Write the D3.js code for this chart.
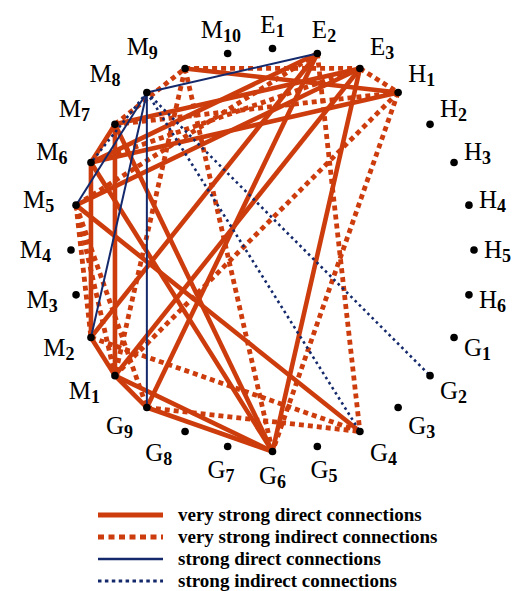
<!DOCTYPE html>
<html>
<head>
<meta charset="utf-8">
<script src="https://cdn.jsdelivr.net/npm/d3@7"></script>
<style>
  body { margin: 0; background: #fff; }
  svg { display: block; }
  .lbl { font-family: "Liberation Serif", "Times New Roman", serif; fill: #000; }
  .leg { font-family: "Liberation Serif", "Times New Roman", serif; font-weight: bold; font-size: 19px; fill: #000; }
</style>
</head>
<body>
<script>
// nodes around the circle, clockwise starting at the top
var nodes = ["E1","E2","E3","H1","H2","H3","H4","H5","H6","G1","G2","G3","G4","G5","G6","G7","G8","G9","M1","M2","M3","M4","M5","M6","M7","M8","M9","M10"];

var veryStrongDirect = [
    ["M9","H1"],["M7","E3"],["M6","H1"],["M6","E2"],["M5","E3"],
    ["E2","G9"],["E2","M2"],["E3","M1"],["E3","G6"],
    ["M6","G6"],["M7","G6"],["M5","G4"],["M6","M2"],["M7","M1"],
    ["M1","G6"],["G9","G6"],["M1","G9"],["M2","M1"],["M6","M7"]
];
var veryStrongIndirect = [
    ["M9","E3"],["E3","H1"],["M7","H1"],["H1","G6"],["H1","M1"],["E2","G4"],
    ["M9","G6"],["G9","G4"],["M2","G4"],["M5","M2"],["M7","M9"],["M9","M1"],
    ["E2","M5"],["M6","E3"],["M5","M1"],["M5","G9"]
];
var strongDirect = [["M8","E2"],["M8","M5"],["M8","M2"],["M8","G9"]];
var strongIndirect = [["M8","G2"],["M8","G4"],["M8","M6"]];

var legendLabels = [
    "very strong direct connections",
    "very strong indirect connections",
    "strong direct connections",
    "strong indirect connections"
];

var w = 517, h = 591;
var cx = 272.5, cy = 250, R = 201.5;
var orange = "#cd3c0c", navy = "#14296b";

var svg = d3.select("body").append("svg")
    .attr("width", w).attr("height", h);

var angle = d3.scalePoint()
    .domain(nodes)
    .range([0, 2 * Math.PI * (nodes.length - 1) / nodes.length]);

function pos(n) {
    var p = d3.pointRadial(angle(n), R);
    return [cx + p[0], cy + p[1]];
}

// line styles: very strong direct, very strong indirect, strong direct, strong indirect
var styles = [
    { data: veryStrongDirect, color: orange, width: 4.6, dash: null, legW: 4.8, legDash: null },
    { data: veryStrongIndirect, color: orange, width: 4.8, dash: "5,4", legW: 5, legDash: "6,4.5" },
    { data: strongDirect, color: navy, width: 2, dash: null, legW: 2.6, legDash: null },
    { data: strongIndirect, color: navy, width: 2.6, dash: "2.6,3.4", legW: 3, legDash: "3.5,3.4" }
];

// dotted orange underneath, then solid orange, then navy on top
[1, 0, 2, 3].forEach(function (i) {
    var k = styles[i];
    svg.append("g").selectAll("line")
        .data(k.data)
        .enter()
        .append("line")
        .attr("x1", function (d) { return pos(d[0])[0]; })
        .attr("y1", function (d) { return pos(d[0])[1]; })
        .attr("x2", function (d) { return pos(d[1])[0]; })
        .attr("y2", function (d) { return pos(d[1])[1]; })
        .attr("stroke", k.color)
        .attr("stroke-width", k.width)
        .attr("stroke-dasharray", k.dash);
});

// dots
svg.append("g").selectAll("circle")
    .data(nodes)
    .enter()
    .append("circle")
    .attr("cx", function (d) { return pos(d)[0]; })
    .attr("cy", function (d) { return pos(d)[1]; })
    .attr("r", 3.8)
    .attr("fill", "#000");

// labels: end-anchored on the left, start-anchored on the right
function side(d) {
    var s = Math.sin(angle(d));
    return s < -0.3 ? "end" : s > 0.3 ? "start" : "middle";
}

var lab = svg.append("g").selectAll("text")
    .data(nodes)
    .enter()
    .append("text")
    .attr("class", "lbl")
    .attr("text-anchor", side)
    .attr("x", function (d) {
        var a = angle(d), p = pos(d);
        if (side(d) == "end") return p[0] - (20 + 8 * Math.cos(a));
        if (side(d) == "start") return p[0] + 10;
        return p[0] + Math.sin(a) * 30;
    })
    .attr("y", function (d) { return pos(d)[1] - Math.cos(angle(d)) * 24 + 8; });

lab.append("tspan")
    .style("font-size", "25px")
    .text(function (d) { return d[0]; });
lab.append("tspan")
    .style("font-size", "18px")
    .style("font-weight", "bold")
    .attr("dy", 4)
    .text(function (d) { return d.slice(1); });

// legend
var legY = d3.scalePoint().domain(legendLabels).range([515, 581]);

var leg = svg.append("g").selectAll("g")
    .data(legendLabels)
    .enter()
    .append("g")
    .attr("transform", function (d) { return "translate(0," + legY(d) + ")"; });

leg.append("line")
    .attr("x1", 98).attr("x2", 163)
    .attr("stroke", function (d, i) { return styles[i].color; })
    .attr("stroke-width", function (d, i) { return styles[i].legW; })
    .attr("stroke-dasharray", function (d, i) { return styles[i].legDash; });

leg.append("text")
    .attr("class", "leg")
    .attr("x", 178)
    .attr("y", 6)
    .text(function (d) { return d; });
</script>
</body>
</html>
